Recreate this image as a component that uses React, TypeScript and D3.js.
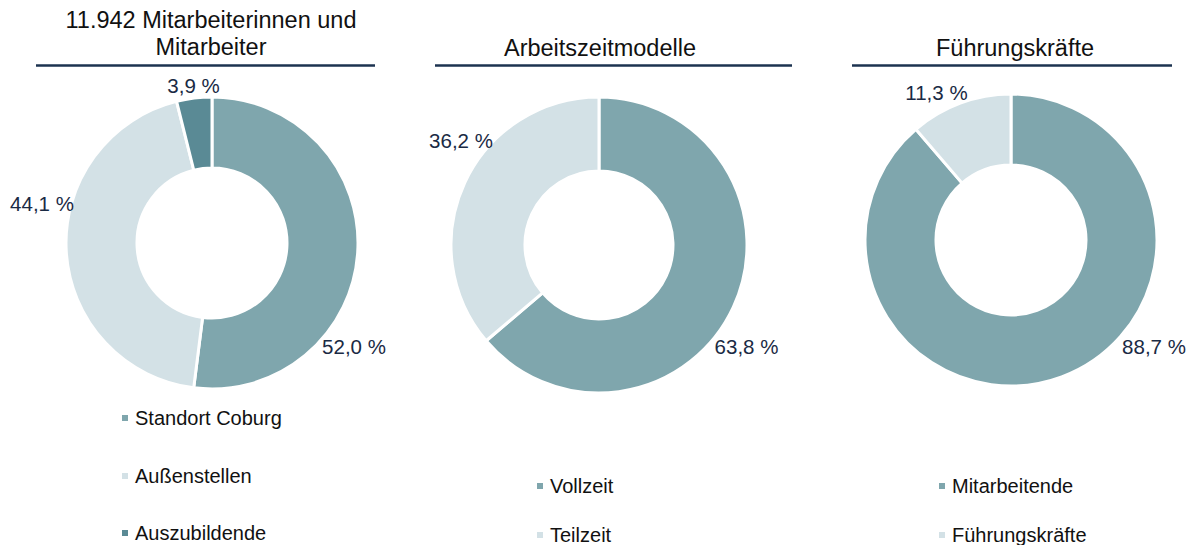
import React from "react";
import * as d3 from "d3";

const chart1Categories = ["Standort Coburg", "Außenstellen", "Auszubildende"];
const chart1Values = [52.0, 44.1, 3.9];
const chart2Categories = ["Vollzeit", "Teilzeit"];
const chart2Values = [63.8, 36.2];
const chart3Categories = ["Mitarbeitende", "Führungskräfte"];
const chart3Values = [88.7, 11.3];
const titles = [["11.942 Mitarbeiterinnen und", "Mitarbeiter"], ["Arbeitszeitmodelle"], ["Führungskräfte"]];

const COLORS = ["#7fa6ad", "#d3e1e6", "#5a8a95"];

const layouts = [
  {
    cx: 212, cy: 243, rOut: 146, rIn: 75,
    titleX: 211, titleY: [28, 55], lineX: [36, 375], lineY: 65.5,
    labelOffsets: [[142, 111], [-170, -32], [-18.5, -150]],
    legendX: 135, legendY: [425, 483, 540],
  },
  {
    cx: 599, cy: 245, rOut: 148, rIn: 74,
    titleX: 600, titleY: [56], lineX: [435, 792], lineY: 65.5,
    labelOffsets: [[147.5, 109], [-138, -97]],
    legendX: 550, legendY: [493, 542],
  },
  {
    cx: 1011, cy: 240, rOut: 146, rIn: 75,
    titleX: 1015, titleY: [56], lineX: [852, 1172], lineY: 65.5,
    labelOffsets: [[143, 114], [-74.5, -140]],
    legendX: 952, legendY: [493, 542],
  },
];

const datasets = [
  { cats: chart1Categories, vals: chart1Values },
  { cats: chart2Categories, vals: chart2Values },
  { cats: chart3Categories, vals: chart3Values },
];

const fmt = (v: number) => v.toFixed(1).replace(".", ",") + " %";

const FONT = "'Liberation Sans', Arial, sans-serif";

export default function App() {
  return (
    <svg
      width={1192}
      height={545}
      style={{ position: "absolute", left: 0, top: 0, background: "#fff" }}
      fontFamily={FONT}
    >
      {datasets.map((ds, i) => {
        const L = layouts[i];
        const pie = d3.pie<number>().sort(null).value((d) => d)(ds.vals);
        const arc = d3.arc<d3.PieArcDatum<number>>().innerRadius(L.rIn).outerRadius(L.rOut);
        return (
          <g key={i}>
            {titles[i].map((t, j) => (
              <text key={j} x={L.titleX} y={L.titleY[j]} textAnchor="middle" fontSize={23.5} fill="#111">
                {t}
              </text>
            ))}
            <line x1={L.lineX[0]} x2={L.lineX[1]} y1={L.lineY} y2={L.lineY} stroke="#1c3350" strokeWidth={2.5} />
            <g transform={`translate(${L.cx},${L.cy})`}>
              {pie.map((p, k) => (
                <path key={k} d={arc(p) || ""} fill={COLORS[k]} stroke="#fff" strokeWidth={3} strokeLinejoin="miter" />
              ))}
              {pie.map((p, k) => (
                <text
                  key={"l" + k}
                  x={L.labelOffsets[k][0]}
                  y={L.labelOffsets[k][1]}
                  textAnchor="middle"
                  fontSize={20.5}
                  fill="#1a2a44"
                >
                  {fmt(ds.vals[k])}
                </text>
              ))}
            </g>
            {ds.cats.map((c, k) => (
              <g key={"lg" + k}>
                <rect x={L.legendX - 13} y={L.legendY[k] - 10} width={6} height={6} fill={COLORS[k]} />
                <text x={L.legendX} y={L.legendY[k]} fontSize={20} fill="#111">
                  {c}
                </text>
              </g>
            ))}
          </g>
        );
      })}
    </svg>
  );
}
